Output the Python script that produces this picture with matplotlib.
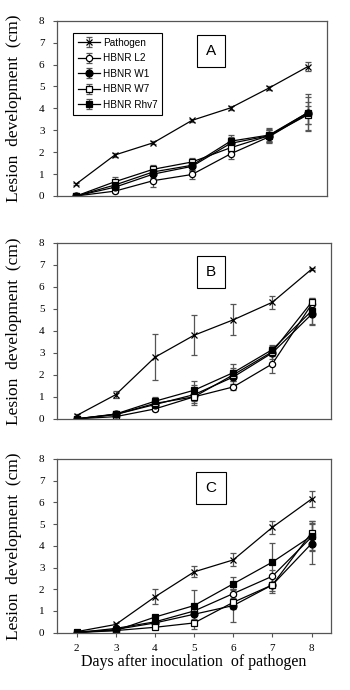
import matplotlib.pyplot as plt
import numpy as np

days = [2, 3, 4, 5, 6, 7, 8]
names = ['Pathogen', 'HBNR L2', 'HBNR W1', 'HBNR W7', 'HBNR Rhv7']
panels = ['A', 'B', 'C']

# panel A
a_vals = [
    [0.55, 1.87, 2.43, 3.45, 4.02, 4.93, 5.90],
    [0.00, 0.22, 0.70, 0.98, 1.92, 2.70, 3.75],
    [0.00, 0.40, 1.00, 1.35, 2.40, 2.75, 3.80],
    [0.00, 0.65, 1.22, 1.55, 2.20, 2.75, 3.70],
    [0.00, 0.50, 1.10, 1.40, 2.50, 2.78, 3.80],
]
a_err = [
    [0.05, 0.08, 0.08, 0.08, 0.08, 0.10, 0.20],
    [0.00, 0.10, 0.30, 0.20, 0.25, 0.30, 0.75],
    [0.00, 0.15, 0.20, 0.20, 0.30, 0.30, 0.50],
    [0.00, 0.20, 0.20, 0.20, 0.20, 0.25, 0.40],
    [0.00, 0.20, 0.20, 0.20, 0.30, 0.30, 0.85],
]
# panel B
b_vals = [
    [0.15, 1.10, 2.80, 3.80, 4.50, 5.30, 6.80],
    [0.00, 0.10, 0.45, 1.00, 1.45, 2.50, 5.20],
    [0.00, 0.20, 0.65, 1.10, 1.90, 3.00, 4.75],
    [0.00, 0.20, 0.70, 1.00, 2.00, 3.05, 5.30],
    [0.00, 0.22, 0.80, 1.30, 2.10, 3.15, 4.90],
]
b_err = [
    [0.05, 0.15, 1.05, 0.90, 0.70, 0.30, 0.05],
    [0.00, 0.05, 0.10, 0.20, 0.15, 0.40, 0.20],
    [0.00, 0.05, 0.20, 0.45, 0.30, 0.30, 0.50],
    [0.00, 0.05, 0.15, 0.30, 0.30, 0.20, 0.20],
    [0.00, 0.05, 0.20, 0.40, 0.40, 0.20, 0.60],
]
# panel C
c_vals = [
    [0.05, 0.38, 1.65, 2.80, 3.35, 4.85, 6.15],
    [0.00, 0.20, 0.50, 1.00, 1.80, 2.60, 4.40],
    [0.00, 0.15, 0.45, 0.85, 1.25, 2.20, 4.10],
    [0.00, 0.10, 0.25, 0.45, 1.40, 2.20, 4.60],
    [0.05, 0.10, 0.72, 1.25, 2.25, 3.25, 4.45],
]
c_err = [
    [0.05, 0.05, 0.35, 0.25, 0.30, 0.30, 0.35],
    [0.00, 0.05, 0.10, 0.20, 0.20, 0.30, 0.60],
    [0.00, 0.05, 0.10, 0.20, 0.75, 0.30, 0.95],
    [0.00, 0.05, 0.10, 0.30, 0.30, 0.35, 0.55],
    [0.00, 0.05, 0.10, 0.70, 0.30, 0.90, 0.70],
]

all_vals = [a_vals, b_vals, c_vals]
all_err = [a_err, b_err, c_err]

markers = ['x', 'o', 'o', 's', 's']
faces = ['k', 'white', 'k', 'white', 'k']
msizes = [4.5, 4.5, 5, 5, 5]

fig = plt.figure(figsize=(3.5, 6.9), dpi=100)
rects = [
    [0.163, 0.716, 0.771, 0.254],
    [0.163, 0.393, 0.783, 0.255],
    [0.163, 0.083, 0.783, 0.252],
]
letter_pos = [(211, 51), (211, 272), (211, 488)]

for p in range(3):
    ax = fig.add_axes(rects[p])
    for i in range(5):
        ax.errorbar(days, all_vals[p][i], yerr=all_err[p][i], color='k', lw=0.9,
                    marker=markers[i], ms=msizes[i], mfc=faces[i], mec='k', mew=0.9,
                    ecolor='#555555', elinewidth=0.9, capsize=2.5, capthick=0.9,
                    label=names[i])
    ax.set_xlim(1.5, 8.5)
    ax.set_ylim(0, 8)
    ax.set_yticks(range(9))
    for sp in ax.spines.values():
        sp.set_color('#555555')
        sp.set_linewidth(0.9)
    ax.tick_params(axis='y', direction='out', length=3, width=0.8, color='#555555',
                   labelsize=8, pad=6)
    for lab in ax.get_yticklabels():
        lab.set_family('Liberation Serif')
    if p == 2:
        ax.set_xticks(days)
        ax.tick_params(axis='x', direction='out', length=3, width=0.8, color='#555555',
                       labelsize=8, pad=5)
        for lab in ax.get_xticklabels():
            lab.set_family('Liberation Serif')
        ax.set_xlabel('Days after inoculation  of pathogen', family='Liberation Serif',
                      fontsize=11.5, labelpad=1)
    else:
        ax.set_xticks([])
    ax.set_ylabel('Lesion  development  (cm)', family='Liberation Serif', fontsize=12.5,
                  labelpad=12)
    fx = letter_pos[p][0] / 350
    fy = 1 - letter_pos[p][1] / 690
    fig.text(fx, fy, panels[p], family='Liberation Sans', fontsize=11, ha='center', va='center',
             bbox=dict(boxstyle='square,pad=0.6', fc='white', ec='k', lw=0.8))
    if p == 0:
        leg = ax.legend(loc='upper left', bbox_to_anchor=(0.04, 0.96),
                        prop={'family': 'Liberation Sans', 'size': 7.2}, fancybox=False,
                        edgecolor='k', framealpha=1, handlelength=2.2, borderpad=0.5,
                        labelspacing=0.55, handletextpad=0.3)
        leg.get_frame().set_linewidth(0.8)

fig.savefig('out.png', dpi=100)
